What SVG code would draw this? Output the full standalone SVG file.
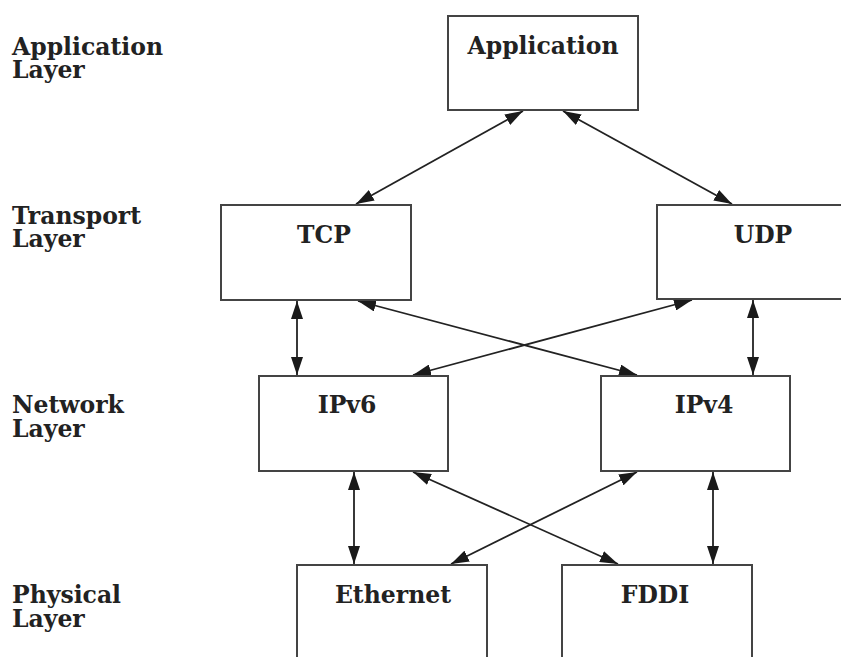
<svg xmlns="http://www.w3.org/2000/svg" width="841" height="657" viewBox="0 0 841 657">
<defs>
<marker id="ah" viewBox="0 0 18 12" refX="18" refY="6" markerWidth="18" markerHeight="12" markerUnits="userSpaceOnUse" orient="auto-start-reverse">
<path d="M0,0 L18,6 L0,12 Z" fill="#1a1a1a"/>
</marker>
</defs>
<style>
.box{fill:#fff;stroke:#444;stroke-width:2}
.lbl{font-family:"DejaVu Serif","Liberation Serif",serif;font-weight:bold;font-size:23.5px;fill:#222}
.nt{font-family:"DejaVu Serif","Liberation Serif",serif;font-weight:bold;font-size:23.5px;fill:#222;text-anchor:middle}
.c{stroke:#222;stroke-width:1.8;fill:none;marker-start:url(#ah);marker-end:url(#ah)}
</style>
<rect width="841" height="657" fill="#fff"/>
<g id="layer-labels">
<text class="lbl" x="12" y="55">Application</text>
<text class="lbl" x="12" y="78">Layer</text>
<text class="lbl" x="12" y="224">Transport</text>
<text class="lbl" x="12" y="247">Layer</text>
<text class="lbl" x="12" y="413">Network</text>
<text class="lbl" x="12" y="437">Layer</text>
<text class="lbl" x="12" y="603">Physical</text>
<text class="lbl" x="12" y="627">Layer</text>
</g>
<g id="connectors">
<line class="c" x1="523" y1="111" x2="356" y2="204"/>
<line class="c" x1="563" y1="111" x2="732" y2="204"/>
<line class="c" x1="297" y1="301" x2="297" y2="375"/>
<line class="c" x1="753" y1="300" x2="753" y2="375"/>
<line class="c" x1="358" y1="301" x2="637" y2="375"/>
<line class="c" x1="692" y1="300" x2="413" y2="375"/>
<line class="c" x1="354" y1="472" x2="354" y2="564"/>
<line class="c" x1="713" y1="472" x2="713" y2="564"/>
<line class="c" x1="413" y1="472" x2="618" y2="564"/>
<line class="c" x1="637" y1="472" x2="451" y2="564"/>
</g>
<g id="application">
<rect class="box" x="448" y="16" width="190" height="94"/>
<text class="nt" x="543" y="54">Application</text>
</g>
<g id="tcp">
<rect class="box" x="221" y="205" width="190" height="95"/>
<text class="nt" x="324" y="243">TCP</text>
</g>
<g id="udp">
<rect class="box" x="657" y="205" width="190" height="94"/>
<text class="nt" x="763" y="243">UDP</text>
</g>
<g id="ipv6">
<rect class="box" x="259" y="376" width="189" height="95"/>
<text class="nt" x="347" y="413">IPv6</text>
</g>
<g id="ipv4">
<rect class="box" x="601" y="376" width="189" height="95"/>
<text class="nt" x="704" y="413">IPv4</text>
</g>
<g id="ethernet">
<rect class="box" x="297" y="565" width="190" height="100"/>
<text class="nt" x="393" y="603">Ethernet</text>
</g>
<g id="fddi">
<rect class="box" x="562" y="565" width="190" height="100"/>
<text class="nt" x="655" y="603">FDDI</text>
</g>
</svg>
